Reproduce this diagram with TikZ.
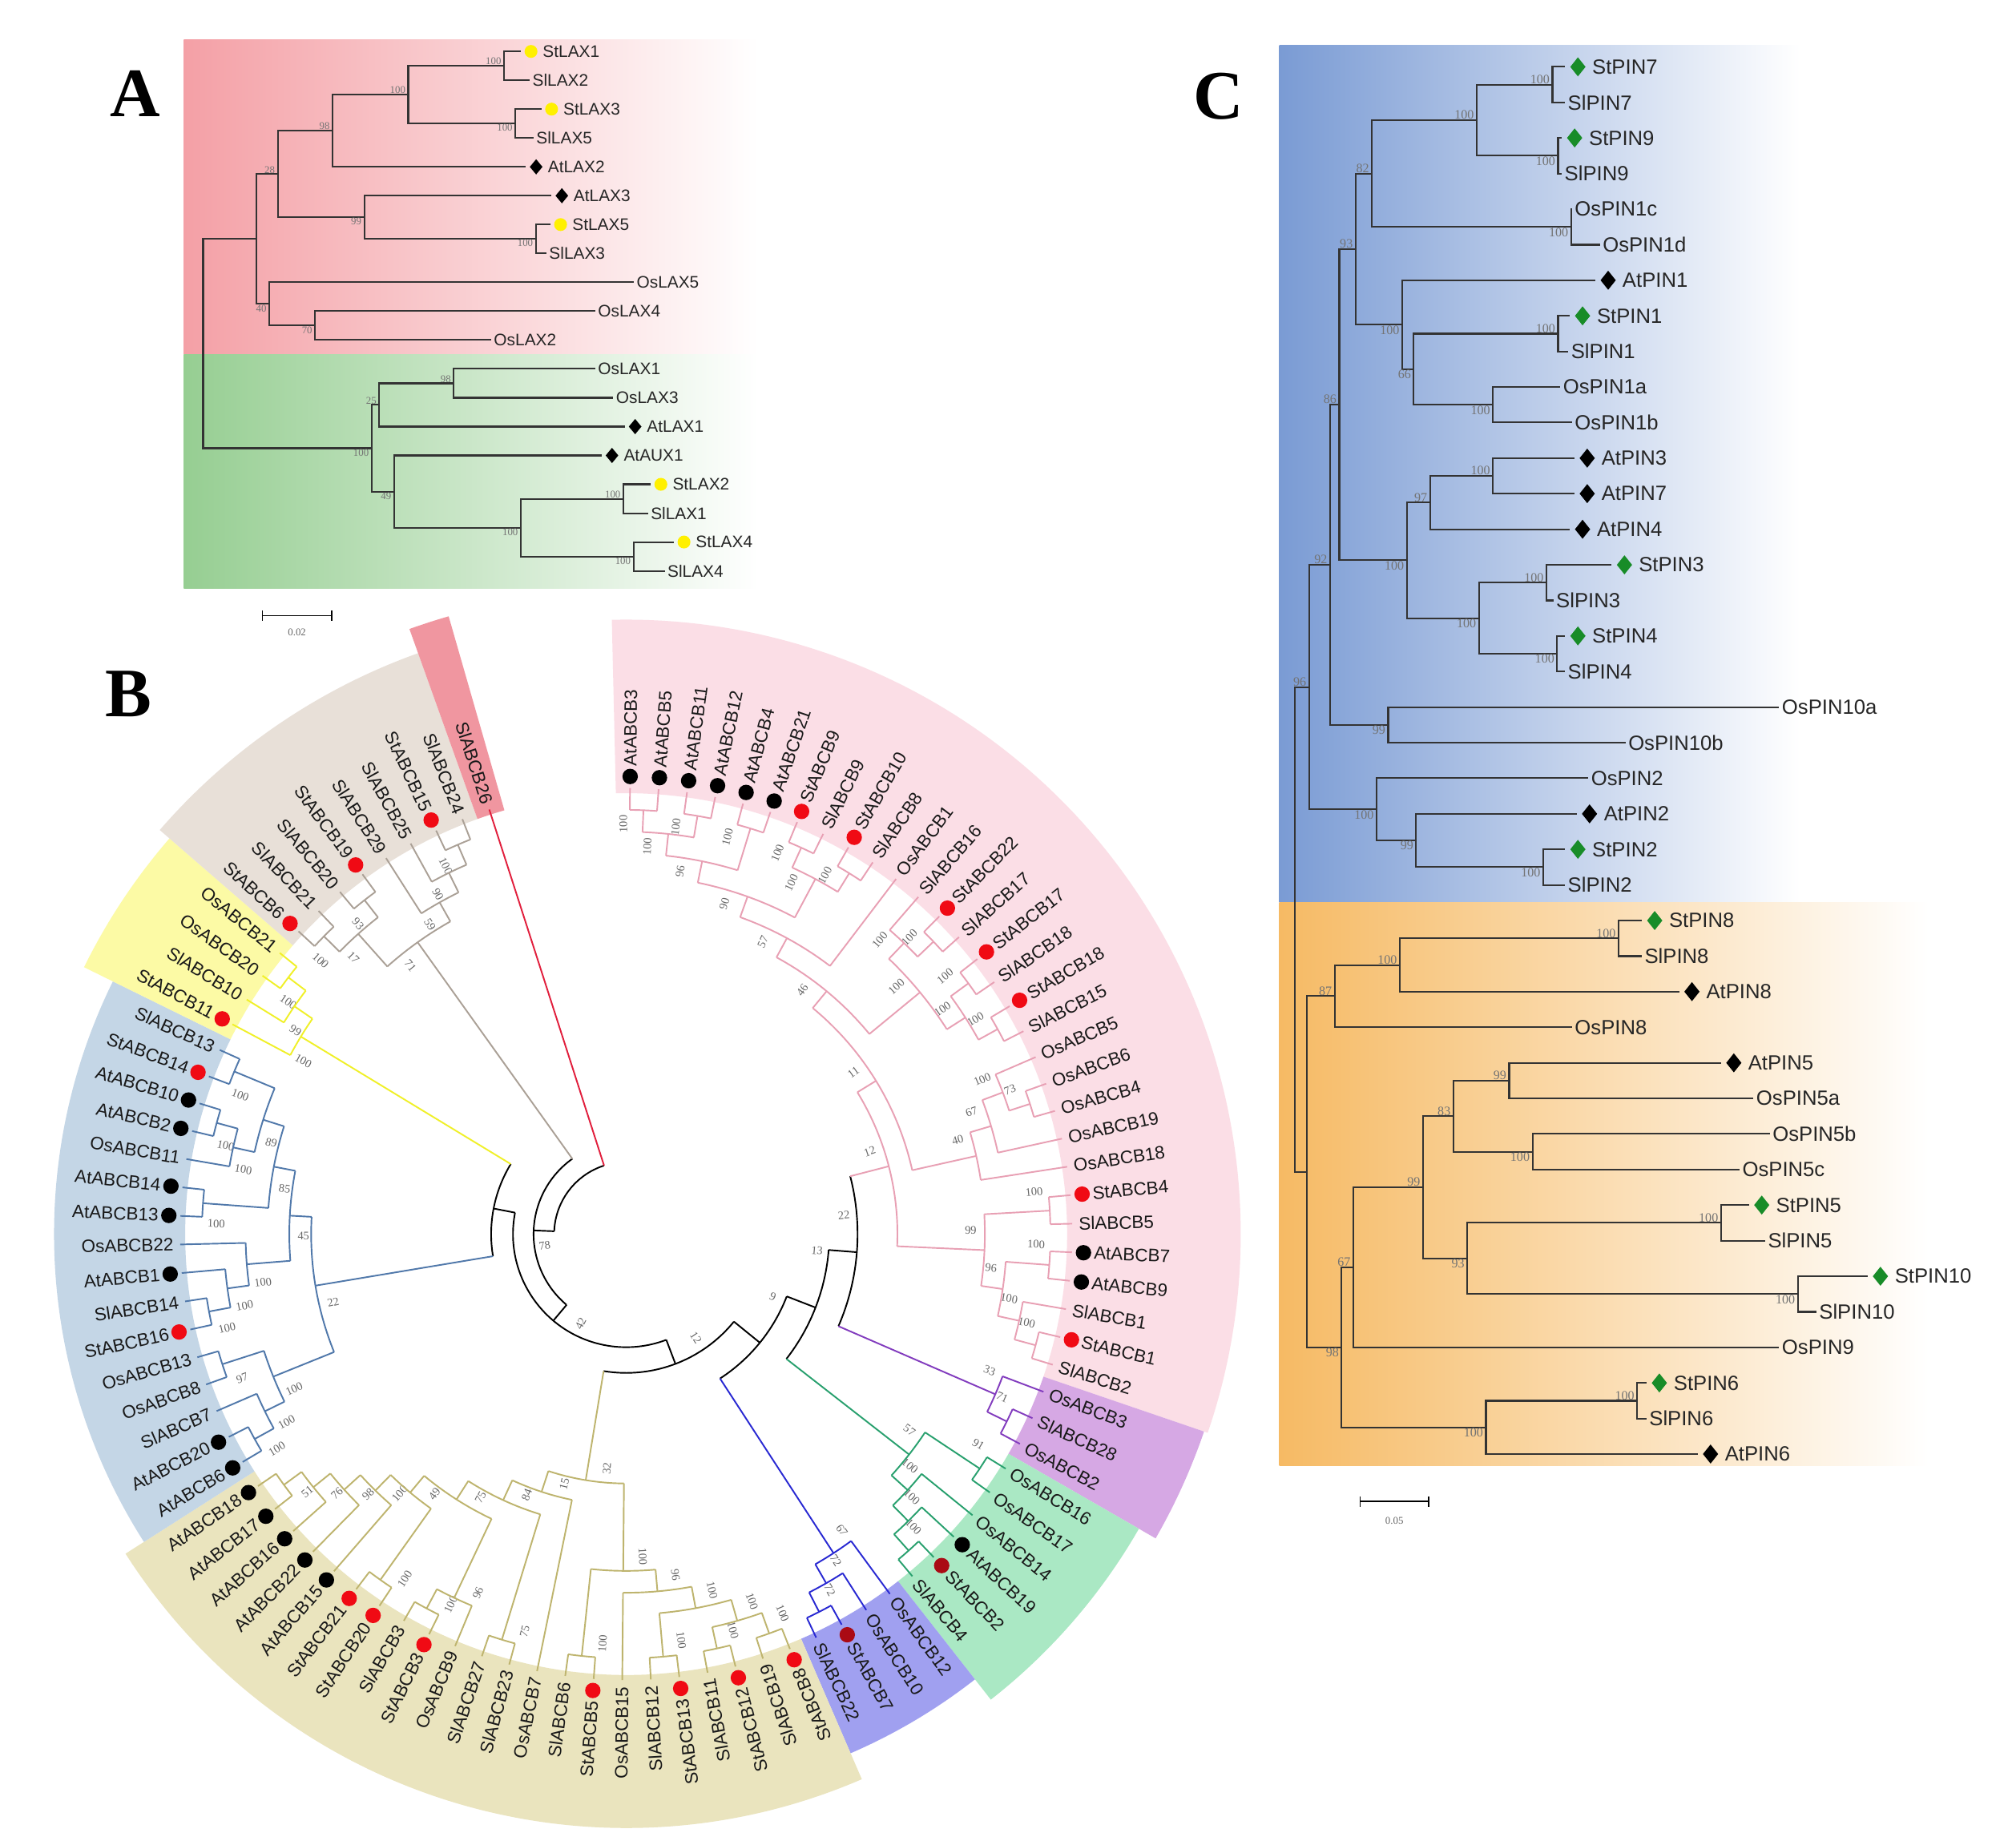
\documentclass[tikz,border=0pt]{standalone}
\usepackage{fontspec}
\setmainfont{Liberation Serif}
\newfontfamily\sansf{Liberation Sans}
\usetikzlibrary{shapes.geometric}
\definecolor{pinkA}{RGB}{244,160,166}
\definecolor{greenA}{RGB}{150,206,146}
\definecolor{blueC}{RGB}{122,155,212}
\definecolor{orangeC}{RGB}{246,186,100}
\definecolor{dotyellow}{RGB}{255,240,0}
\definecolor{diagreen}{RGB}{24,140,40}
\definecolor{pinkbr}{RGB}{232,160,180}
\definecolor{purplebr}{RGB}{130,60,190}
\definecolor{greenbr}{RGB}{40,160,110}
\definecolor{violetbr}{RGB}{40,40,210}
\definecolor{khakibr}{RGB}{190,180,110}
\definecolor{bluebr}{RGB}{80,120,170}
\definecolor{yellowbr}{RGB}{240,240,40}
\definecolor{tanbr}{RGB}{170,160,150}
\definecolor{redbr}{RGB}{225,30,60}
\definecolor{pinkbg}{RGB}{251,222,230}
\definecolor{purplebg}{RGB}{214,168,228}
\definecolor{greenbg}{RGB}{170,232,196}
\definecolor{violetbg}{RGB}{160,160,240}
\definecolor{khakibg}{RGB}{234,228,190}
\definecolor{bluebg}{RGB}{196,214,230}
\definecolor{yellowbg}{RGB}{252,250,165}
\definecolor{tanbg}{RGB}{232,224,216}
\definecolor{redbg}{RGB}{240,150,160}
\definecolor{dotr}{RGB}{240,10,20}
\definecolor{dotd}{RGB}{170,10,20}
\definecolor{dotk}{RGB}{0,0,0}
\newcommand\myfA{\sansf\fontsize{13}{13}\selectfont}
\newcommand\myfB{\sansf\fontsize{14}{14}\selectfont}
\newcommand\myfC{\sansf\fontsize{16}{16}\selectfont}
\newcommand\mybA{\fontsize{8}{8}\selectfont}
\newcommand\mybB{\fontsize{9}{9}\selectfont}
\newcommand\mybC{\fontsize{10}{10}\selectfont}
\tikzset{
 brA/.style={draw=black!80, line width=1.3pt},
 lfA/.style={anchor=west, inner sep=0pt, font=\myfA, text=black!85},
 lfC/.style={anchor=west, inner sep=0pt, font=\myfC, text=black!85},
 lfB/.style={inner sep=0pt, font=\myfB, text=black!90},
 bsA/.style={inner sep=0.5pt, font=\mybA, text=black!55},
 bsC/.style={inner sep=0.5pt, font=\mybC, text=black!55},
 bsB/.style={inner sep=0.5pt, font=\mybB, text=black!60},
 ydot/.style={circle, fill=dotyellow, inner sep=0pt, minimum size=10pt},
 kdiaA/.style={diamond, fill=black, inner sep=0pt, minimum width=10pt, minimum height=12pt},
 kdiaC/.style={diamond, fill=black, inner sep=0pt, minimum width=12pt, minimum height=15pt},
 gdiaC/.style={diamond, fill=diagreen, inner sep=0pt, minimum width=12pt, minimum height=15pt},
 bdot/.style={circle, inner sep=0pt, minimum size=12pt},
 bbr/.style={line width=1.2pt},
 panel/.style={font=\fontsize{54}{54}\selectfont\bfseries}
}
% panel A leaves
\newcommand\LA[4]{\coordinate (#1) at (#2,#3); \node[lfA] (#1-t) at ([xshift=2pt]#1) {#4};}
\newcommand\LAm[5]{\coordinate (#1) at (#2,#3); \node[#4] (#1-m) at ([xshift=8pt]#1) {}; \node[lfA] (#1-t) at ([xshift=17pt]#1) {#5};}
% panel C leaves
\newcommand\LC[4]{\coordinate (#1) at (#2,#3); \node[lfC] (#1-t) at ([xshift=2pt]#1) {#4};}
\newcommand\LCm[5]{\coordinate (#1) at (#2,#3); \node[#4] (#1-m) at ([xshift=10pt]#1) {}; \node[lfC] (#1-t) at ([xshift=21pt]#1) {#5};}
\newcommand\BS[4]{\node[#4, anchor=#3 east] at ([xshift=-1.5pt]#1) {#2};}
% panel B
\def\Bstart{-89.5}
\def\Bstep{3.6735}
\def\Brtip{347}
\newcommand\BLeaf[2]{%
  \pgfmathsetmacro\tmpang{\Bstart+(#1-1)*\Bstep}%
  \expandafter\xdef\csname bang@L#1\endcsname{\tmpang}%
  \expandafter\xdef\csname brad@L#1\endcsname{\Brtip}%
  \expandafter\xdef\csname bcol@L#1\endcsname{#2}}
\newcommand\BNode[6]{%
  \edef\aA{\csname bang@#3\endcsname}%
  \edef\aB{\csname bang@#4\endcsname}%
  \edef\rA{\csname brad@#3\endcsname}%
  \edef\rB{\csname brad@#4\endcsname}%
  \edef\cA{\csname bcol@#3\endcsname}%
  \edef\cB{\csname bcol@#4\endcsname}%
  \pgfmathsetmacro\tmpang{(\aA+\aB)/2}%
  \expandafter\xdef\csname bang@#1\endcsname{\tmpang}%
  \expandafter\xdef\csname brad@#1\endcsname{#2}%
  \expandafter\xdef\csname bcol@#1\endcsname{#5}%
  \draw[bbr,draw=#5] (\aA:#2) arc[start angle=\aA, end angle=\aB, radius=#2];%
  \draw[bbr,draw=\cA] (\aA:#2) -- (\aA:\rA);%
  \draw[bbr,draw=\cB] (\aB:#2) -- (\aB:\rB);%
  \def\tmplab{#6}\ifx\tmplab\empty\else
    \pgfmathsetmacro\la{\tmpang-900/#2}%
    \pgfmathsetmacro\lrr{#2-11}%
    \pgfmathsetmacro\lrot{ifthenelse(\la>90,180-(\la),0-(\la))}%
    \node[bsB, rotate=\lrot] at (\la:\lrr) {#6};%
  \fi}
\newcommand\BLab[3]{%
  \pgfmathsetmacro\tmpang{\Bstart+(#1-1)*\Bstep}%
  \ifnum#1<44\relax
    \pgfmathsetmacro\lrot{0-(\tmpang)}\def\lanc{west}%
  \else
    \pgfmathsetmacro\lrot{180-(\tmpang)}\def\lanc{east}%
  \fi
  \if#3n\def\lr{352}\else\def\lr{364}%
    \node[bdot,fill=dot#3] at (\tmpang:356) {};\fi
  \node[lfB,anchor=\lanc,rotate=\lrot] at (\tmpang:\lr) {#2};}
\newcommand\Band[4]{%
  \pgfmathsetmacro\ba{\Bstart+(#1-1.5)*\Bstep}%
  \pgfmathsetmacro\bb{\Bstart+(#2-0.5)*\Bstep}%
  \fill[#4] (\ba:343) arc[start angle=\ba,end angle=\bb,radius=343] -- (\bb:#3) arc[start angle=\bb,end angle=\ba,radius=#3] -- cycle;}
\newcommand\BBL[3]{%
  \pgfmathsetmacro\lrot{ifthenelse(#1>90,180-(#1),0-(#1))}%
  \node[bsB, rotate=\lrot] at (#1:#2) {#3};}

\begin{document}
\begin{tikzpicture}[x=1pt,y=-1pt]
\useasboundingbox (0,0) rectangle (1568,1435);
\fill[white] (0,0) rectangle (1568,1435);

%================ PANEL A =================
\node[panel] at (105,73) {A};
\shade[left color=pinkA, right color=white] (143,31) rectangle (590,276);
\shade[left color=greenA, right color=white] (143,276) rectangle (590,458);

\LAm{StLAX1}{405}{40}{ydot}{StLAX1}
\LA{SlLAX2}{412}{62.45}{SlLAX2}
\LAm{StLAX3}{421}{84.9}{ydot}{StLAX3}
\LA{SlLAX5}{415}{107.35}{SlLAX5}
\LAm{AtLAX2}{409}{129.8}{kdiaA}{AtLAX2}
\LAm{AtLAX3}{429}{152.25}{kdiaA}{AtLAX3}
\LAm{StLAX5}{428}{174.7}{ydot}{StLAX5}
\LA{SlLAX3}{425}{197.15}{SlLAX3}
\LA{OsLAX5}{493}{219.6}{OsLAX5}
\LA{OsLAX4}{463}{242.05}{OsLAX4}
\LA{OsLAX2}{382}{264.5}{OsLAX2}
\LA{OsLAX1}{463}{286.95}{OsLAX1}
\LA{OsLAX3}{477}{309.4}{OsLAX3}
\LAm{AtLAX1}{486}{331.85}{kdiaA}{AtLAX1}
\LAm{AtAUX1}{468}{354.3}{kdiaA}{AtAUX1}
\LAm{StLAX2}{506}{376.75}{ydot}{StLAX2}
\LA{SlLAX1}{504}{399.2}{SlLAX1}
\LAm{StLAX4}{524}{421.65}{ydot}{StLAX4}
\LA{SlLAX4}{517}{444.1}{SlLAX4}

\coordinate (P5) at (392,51.2);
\coordinate (P6) at (400.8,96.1);
\coordinate (P4) at (317.5,73.65);
\coordinate (P3) at (258.6,101.7);
\coordinate (P8) at (416.7,185.9);
\coordinate (P7) at (283.3,169.1);
\coordinate (P2) at (216,135.4);
\coordinate (P10) at (245,253.3);
\coordinate (P9) at (209.4,236.45);
\coordinate (P1) at (199.2,185.9);
\coordinate (G4) at (352.9,298.2);
\coordinate (G2) at (294.9,315.0);
\coordinate (G6) at (484.8,388.0);
\coordinate (G7) at (492.7,432.9);
\coordinate (G5) at (405,410.45);
\coordinate (G3) at (306.5,382.4);
\coordinate (G1) at (289,348.7);
\coordinate (RA) at (158,267.3);

\foreach \p/\c in {RA/P1,RA/G1,P1/P2,P1/P9,P2/P3,P2/P7,P3/P4,P3/AtLAX2,P4/P5,P4/P6,
  P5/StLAX1,P5/SlLAX2,P6/StLAX3,P6/SlLAX5,P7/AtLAX3,P7/P8,P8/StLAX5,P8/SlLAX3,
  P9/OsLAX5,P9/P10,P10/OsLAX4,P10/OsLAX2,G1/G2,G1/G3,G2/G4,G2/AtLAX1,G4/OsLAX1,G4/OsLAX3,
  G3/AtAUX1,G3/G5,G5/G6,G5/G7,G6/StLAX2,G6/SlLAX1,G7/StLAX4,G7/SlLAX4}
  \draw[brA] (\p) |- (\c);

\BS{P2}{28}{south}{bsA}
\BS{P3}{98}{south}{bsA}
\BS{P4}{100}{south}{bsA}
\BS{P5}{100}{south}{bsA}
\BS{P6}{100}{north}{bsA}
\BS{P7}{99}{north}{bsA}
\BS{P8}{100}{north}{bsA}
\BS{P9}{40}{north}{bsA}
\BS{P10}{70}{north}{bsA}
\BS{G1}{100}{north}{bsA}
\BS{G2}{25}{south}{bsA}
\BS{G4}{98}{south}{bsA}
\BS{G3}{49}{north}{bsA}
\BS{G5}{100}{north}{bsA}
\BS{G6}{100}{south}{bsA}
\BS{G7}{100}{north}{bsA}

\draw[line width=1pt] (204,479) -- (258,479);
\draw[line width=1pt] (204,475) -- (204,483);
\draw[line width=1pt] (258,475) -- (258,483);
\node[font=\mybA, text=black!60] at (231,492) {0.02};

%================ PANEL C =================
\node[panel] at (948,75) {C};
\shade[left color=blueC, right color=white] (995,35) rectangle (1400,702);
\shade[left color=orangeC, right color=white] (995,702) rectangle (1500,1140);

\begin{scope}[xshift=991pt, x=0.362pt]
\LCm{StPIN7}{625}{52.0}{gdiaC}{StPIN7}
\LC{SlPIN7}{625}{79.7}{SlPIN7}
\LCm{StPIN9}{618}{107.3}{gdiaC}{StPIN9}
\LC{SlPIN9}{618}{135.0}{SlPIN9}
\LC{OsPIN1c}{640}{162.7}{OsPIN1c}
\LC{OsPIN1d}{700}{190.4}{OsPIN1d}
\LCm{AtPIN1}{690}{218.0}{kdiaC}{AtPIN1}
\LCm{StPIN1}{635}{245.7}{gdiaC}{StPIN1}
\LC{SlPIN1}{632}{273.4}{SlPIN1}
\LC{OsPIN1a}{615}{301.0}{OsPIN1a}
\LC{OsPIN1b}{640}{328.7}{OsPIN1b}
\LCm{AtPIN3}{645}{356.4}{kdiaC}{AtPIN3}
\LCm{AtPIN7}{645}{384.0}{kdiaC}{AtPIN7}
\LCm{AtPIN4}{635}{411.7}{kdiaC}{AtPIN4}
\LCm{StPIN3}{725}{439.4}{gdiaC}{StPIN3}
\LC{SlPIN3}{600}{467.1}{SlPIN3}
\LCm{StPIN4}{625}{494.7}{gdiaC}{StPIN4}
\LC{SlPIN4}{625}{522.4}{SlPIN4}
\LC{OsPIN10a}{1085}{550.1}{OsPIN10a}
\LC{OsPIN10b}{755}{577.7}{OsPIN10b}
\LC{OsPIN2}{675}{605.4}{OsPIN2}
\LCm{AtPIN2}{650}{633.1}{kdiaC}{AtPIN2}
\LCm{StPIN2}{625}{660.7}{gdiaC}{StPIN2}
\LC{SlPIN2}{625}{688.4}{SlPIN2}
\LCm{StPIN8}{790}{716.1}{gdiaC}{StPIN8}
\LC{SlPIN8}{790}{743.8}{SlPIN8}
\LCm{AtPIN8}{870}{771.4}{kdiaC}{AtPIN8}
\LC{OsPIN8}{640}{799.1}{OsPIN8}
\LCm{AtPIN5}{960}{826.8}{kdiaC}{AtPIN5}
\LC{OsPIN5a}{1030}{854.4}{OsPIN5a}
\LC{OsPIN5b}{1065}{882.1}{OsPIN5b}
\LC{OsPIN5c}{1000}{909.8}{OsPIN5c}
\LCm{StPIN5}{1020}{937.4}{gdiaC}{StPIN5}
\LC{SlPIN5}{1055}{965.1}{SlPIN5}
\LCm{StPIN10}{1275}{992.8}{gdiaC}{StPIN10}
\LC{SlPIN10}{1165}{1020.5}{SlPIN10}
\LC{OsPIN9}{1085}{1048.1}{OsPIN9}
\LCm{StPIN6}{800}{1075.8}{gdiaC}{StPIN6}
\LC{SlPIN6}{800}{1103.5}{SlPIN6}
\LCm{AtPIN6}{910}{1131.1}{kdiaC}{AtPIN6}

\coordinate (cA) at (598,65.85);
\coordinate (cB) at (610,121.15);
\coordinate (cC) at (435,93.5);
\coordinate (cD) at (638,176.55);
\coordinate (cE) at (210,135.0);
\coordinate (cF) at (610,259.55);
\coordinate (cG) at (470,314.85);
\coordinate (cH) at (300,287.2);
\coordinate (cI) at (275,252.6);
\coordinate (cJ) at (175,193.8);
\coordinate (cK) at (470,370.2);
\coordinate (cL) at (335,390.95);
\coordinate (cM) at (585,453.25);
\coordinate (cN) at (608,508.55);
\coordinate (cO) at (440,480.9);
\coordinate (cP) at (285,435.9);
\coordinate (cQ) at (140,314.85);
\coordinate (cR) at (245,563.9);
\coordinate (cS) at (120,439.4);
\coordinate (cT) at (578,674.55);
\coordinate (cU) at (305,653.8);
\coordinate (cV) at (220,629.6);
\coordinate (cW) at (75,534.5);
\coordinate (oA) at (740,729.95);
\coordinate (oB) at (270,750.7);
\coordinate (oC) at (130,774.9);
\coordinate (oD) at (505,840.6);
\coordinate (oE) at (555,895.95);
\coordinate (oF) at (385,868.3);
\coordinate (oG) at (960,951.25);
\coordinate (oH) at (1125,1006.65);
\coordinate (oI) at (415,978.95);
\coordinate (oJ) at (320,923.6);
\coordinate (oK) at (170,985.85);
\coordinate (oL) at (780,1089.65);
\coordinate (oM) at (455,1110.4);
\coordinate (oN) at (145,1048.1);
\coordinate (oO) at (70,911.5);
\coordinate (rC) at (45,723);

\foreach \p/\c in {rC/cW,rC/oO,cW/cS,cW/cV,cS/cQ,cS/cR,cQ/cJ,cQ/cP,cJ/cE,cJ/cI,
  cE/cC,cE/cD,cC/cA,cC/cB,cA/StPIN7,cA/SlPIN7,cB/StPIN9,cB/SlPIN9,cD/OsPIN1c,cD/OsPIN1d,
  cI/AtPIN1,cI/cH,cH/cF,cH/cG,cF/StPIN1,cF/SlPIN1,cG/OsPIN1a,cG/OsPIN1b,
  cP/cL,cP/cO,cL/cK,cL/AtPIN4,cK/AtPIN3,cK/AtPIN7,cO/cM,cO/cN,cM/StPIN3,cM/SlPIN3,
  cN/StPIN4,cN/SlPIN4,cR/OsPIN10a,cR/OsPIN10b,cV/OsPIN2,cV/cU,cU/AtPIN2,cU/cT,
  cT/StPIN2,cT/SlPIN2,oO/oC,oO/oN,oC/oB,oC/OsPIN8,oB/oA,oB/AtPIN8,oA/StPIN8,oA/SlPIN8,
  oN/oK,oN/oM,oK/oJ,oK/OsPIN9,oJ/oF,oJ/oI,oF/oD,oF/oE,oD/AtPIN5,oD/OsPIN5a,
  oE/OsPIN5b,oE/OsPIN5c,oI/oG,oI/oH,oG/StPIN5,oG/SlPIN5,oH/StPIN10,oH/SlPIN10,
  oM/oL,oM/AtPIN6,oL/StPIN6,oL/SlPIN6}
  \draw[brA] (\p) |- (\c);

\foreach \n/\t/\s in {cA/100/south,cB/100/north,cC/100/south,cD/100/north,cE/82/south,
  cF/100/south,cG/100/north,cH/66/north,cI/100/north,cJ/93/south,cK/100/south,cL/97/south,
  cM/100/south,cN/100/north,cO/100/north,cP/100/north,cQ/86/south,cR/99/north,cS/92/south,
  cT/100/north,cU/99/north,cV/100/north,cW/96/south,oA/100/south,oB/100/south,oC/87/south,
  oD/99/south,oE/100/north,oF/83/south,oG/100/south,oH/100/north,oI/93/north,oJ/99/south,
  oK/67/south,oL/100/south,oM/100/north,oN/98/north}
  \BS{\n}{\t}{\s}{bsC};
\end{scope}

\draw[line width=1pt] (1058,1168) -- (1111,1168);
\draw[line width=1pt] (1058,1164) -- (1058,1172);
\draw[line width=1pt] (1111,1164) -- (1111,1172);
\node[font=\mybA, text=black!60] at (1084.5,1183) {0.05};

%================ PANEL B =================
\node[panel] at (100,540) {B};
\begin{scope}[shift={(487,960)}]
\Band{1}{30}{478}{pinkbg}
\Band{31}{33}{475}{purplebg}
\Band{34}{39}{460}{greenbg}
\Band{40}{43}{440}{violetbg}
\Band{44}{65}{462}{khakibg}
\Band{66}{81}{445}{bluebg}
\Band{82}{85}{470}{yellowbg}
\Band{86}{93}{480}{tanbg}
\Band{94}{94}{500}{redbg}

\foreach \i in {1,...,30} {\BLeaf{\i}{pinkbr}}
\foreach \i in {31,...,33} {\BLeaf{\i}{purplebr}}
\foreach \i in {34,...,39} {\BLeaf{\i}{greenbr}}
\foreach \i in {40,...,43} {\BLeaf{\i}{violetbr}}
\foreach \i in {44,...,65} {\BLeaf{\i}{khakibr}}
\foreach \i in {66,...,81} {\BLeaf{\i}{bluebr}}
\foreach \i in {82,...,85} {\BLeaf{\i}{yellowbr}}
\foreach \i in {86,...,93} {\BLeaf{\i}{tanbr}}
\BLeaf{94}{redbr}

% pink
\BNode{p1}{330}{L1}{L2}{pinkbr}{100}
\BNode{p2}{330}{L3}{L4}{pinkbr}{100}
\BNode{p3}{313}{p1}{p2}{pinkbr}{100}
\BNode{p4}{330}{L5}{L6}{pinkbr}{100}
\BNode{p5}{296}{p3}{p4}{pinkbr}{96}
\BNode{p6}{330}{L7}{L8}{pinkbr}{100}
\BNode{p7}{330}{L9}{L10}{pinkbr}{100}
\BNode{p8}{313}{p6}{p7}{pinkbr}{100}
\BNode{p9}{279}{p5}{p8}{pinkbr}{90}
\BNode{p10}{262}{p9}{L11}{pinkbr}{57}
\BNode{p11}{330}{L13}{L14}{pinkbr}{100}
\BNode{p12}{313}{L12}{p11}{pinkbr}{100}
\BNode{p13}{330}{L15}{L16}{pinkbr}{100}
\BNode{p14}{330}{L17}{L18}{pinkbr}{100}
\BNode{p15}{313}{p13}{p14}{pinkbr}{100}
\BNode{p16}{296}{p12}{p15}{pinkbr}{100}
\BNode{p17}{245}{p10}{p16}{pinkbr}{46}
\BNode{p18}{330}{L20}{L21}{pinkbr}{73}
\BNode{p19}{313}{L19}{p18}{pinkbr}{100}
\BNode{p20}{296}{p19}{L22}{pinkbr}{67}
\BNode{p21}{279}{p20}{L23}{pinkbr}{40}
\BNode{p22}{228}{p17}{p21}{pinkbr}{11}
\BNode{p23}{330}{L24}{L25}{pinkbr}{100}
\BNode{p24}{330}{L26}{L27}{pinkbr}{100}
\BNode{p25}{330}{L29}{L30}{pinkbr}{100}
\BNode{p26}{313}{L28}{p25}{pinkbr}{100}
\BNode{p27}{296}{p24}{p26}{pinkbr}{96}
\BNode{p28}{279}{p23}{p27}{pinkbr}{99}
\BNode{p29}{211}{p22}{p28}{pinkbr}{12}
% purple
\BNode{u1}{330}{L32}{L33}{purplebr}{71}
\BNode{u2}{313}{L31}{u1}{purplebr}{33}
% green
\BNode{g1}{330}{L38}{L39}{greenbr}{100}
\BNode{g2}{313}{L37}{g1}{greenbr}{100}
\BNode{g3}{296}{L36}{g2}{greenbr}{100}
\BNode{g4}{330}{L34}{L35}{greenbr}{91}
\BNode{g5}{279}{g4}{g3}{greenbr}{57}
% violet
\BNode{v1}{330}{L42}{L43}{violetbr}{72}
\BNode{v2}{313}{L41}{v1}{violetbr}{72}
\BNode{v3}{296}{L40}{v2}{violetbr}{67}
% khaki
\BNode{w1}{330}{L51}{L52}{khakibr}{100}
\BNode{w2}{330}{L48}{L49}{khakibr}{100}
\BNode{w3}{330}{L46}{L47}{khakibr}{100}
\BNode{w4}{330}{L44}{L45}{khakibr}{100}
\BNode{w5}{313}{w4}{w3}{khakibr}{100}
\BNode{w6}{296}{w5}{w2}{khakibr}{100}
\BNode{w7}{279}{w6}{L50}{khakibr}{96}
\BNode{w8}{262}{w7}{w1}{khakibr}{100}
\BNode{k16}{330}{L64}{L65}{khakibr}{51}
\BNode{k17}{313}{L63}{k16}{khakibr}{76}
\BNode{k18}{296}{L62}{k17}{khakibr}{98}
\BNode{k19}{279}{L61}{k18}{khakibr}{100}
\BNode{x1}{330}{L59}{L60}{khakibr}{100}
\BNode{k20}{262}{x1}{k19}{khakibr}{49}
\BNode{y1}{330}{L57}{L58}{khakibr}{100}
\BNode{y2}{313}{L56}{y1}{khakibr}{96}
\BNode{k21}{245}{y2}{k20}{khakibr}{75}
\BNode{z1}{330}{L54}{L55}{khakibr}{75}
\BNode{k22}{228}{z1}{k21}{khakibr}{84}
\BNode{k23}{211}{L53}{k22}{khakibr}{15}
\BNode{k24}{194}{w8}{k23}{khakibr}{32}
% blue
\BNode{b1}{330}{L66}{L67}{bluebr}{100}
\BNode{b2}{313}{L68}{b1}{bluebr}{100}
\BNode{b3}{330}{L69}{L70}{bluebr}{97}
\BNode{b4}{296}{b2}{b3}{bluebr}{100}
\BNode{b5}{330}{L71}{L72}{bluebr}{100}
\BNode{b6}{313}{L73}{b5}{bluebr}{100}
\BNode{b7}{296}{L74}{b6}{bluebr}{100}
\BNode{b8}{330}{L75}{L76}{bluebr}{100}
\BNode{b10}{330}{L78}{L79}{bluebr}{100}
\BNode{b12}{313}{L77}{b10}{bluebr}{100}
\BNode{b11}{330}{L80}{L81}{bluebr}{100}
\BNode{b13}{296}{b12}{b11}{bluebr}{89}
\BNode{b14}{279}{b8}{b13}{bluebr}{85}
\BNode{b15}{262}{b7}{b14}{bluebr}{45}
\BNode{b16}{245}{b4}{b15}{bluebr}{22}
% yellow
\BNode{q1}{330}{L84}{L85}{yellowbr}{100}
\BNode{q2}{313}{L83}{q1}{yellowbr}{99}
\BNode{q3}{296}{L82}{q2}{yellowbr}{100}
% tan
\BNode{t1}{330}{L92}{L93}{tanbr}{100}
\BNode{t2}{313}{L91}{t1}{tanbr}{90}
\BNode{t3}{296}{L90}{t2}{tanbr}{59}
\BNode{t4}{330}{L88}{L89}{tanbr}{93}
\BNode{t5}{330}{L86}{L87}{tanbr}{100}
\BNode{t6}{313}{t5}{t4}{tanbr}{17}
\BNode{t7}{279}{t6}{t3}{tanbr}{71}
% backbone
\BNode{A7}{180}{p29}{u2}{black}{}
\BNode{A6}{158}{g5}{A7}{black}{}
\BNode{A5}{134}{v3}{A6}{black}{}
\BNode{A4}{108}{k24}{A5}{black}{}
\BNode{A3}{105}{q3}{b16}{black}{}
\BNode{A2}{88}{A3}{A4}{black}{}
\BNode{A1}{72}{t7}{A2}{black}{}
\BNode{R0}{56}{L94}{A1}{black}{}
\BBL{172}{64}{78}
\BBL{117}{78}{42}
\BBL{56}{97}{12}
\BBL{23}{124}{9}
\BBL{5}{149}{13}
\BBL{-5}{170}{22}

\foreach \i/\t/\m in {1/AtABCB3/k,2/AtABCB5/k,3/AtABCB11/k,4/AtABCB12/k,5/AtABCB4/k,
 6/AtABCB21/k,7/StABCB9/r,8/SlABCB9/n,9/StABCB10/r,10/SlABCB8/n,11/OsABCB1/n,
 12/SlABCB16/n,13/StABCB22/r,14/SlABCB17/n,15/StABCB17/r,16/SlABCB18/n,17/StABCB18/r,
 18/SlABCB15/n,19/OsABCB5/n,20/OsABCB6/n,21/OsABCB4/n,22/OsABCB19/n,23/OsABCB18/n,
 24/StABCB4/r,25/SlABCB5/n,26/AtABCB7/k,27/AtABCB9/k,28/SlABCB1/n,29/StABCB1/r,
 30/SlABCB2/n,31/OsABCB3/n,32/SlABCB28/n,33/OsABCB2/n,34/OsABCB16/n,35/OsABCB17/n,
 36/OsABCB14/n,37/AtABCB19/k,38/StABCB2/d,39/SlABCB4/n,40/OsABCB12/n,41/OsABCB10/n,
 42/StABCB7/d,43/SlABCB22/n,44/StABCB8/r,45/SlABCB19/n,46/StABCB12/r,47/SlABCB11/n,
 48/StABCB13/r,49/SlABCB12/n,50/OsABCB15/n,51/StABCB5/r,52/SlABCB6/n,53/OsABCB7/n,
 54/SlABCB23/n,55/SlABCB27/n,56/OsABCB9/n,57/StABCB3/r,58/SlABCB3/n,59/StABCB20/r,
 60/StABCB21/r,61/AtABCB15/k,62/AtABCB22/k,63/AtABCB16/k,64/AtABCB17/k,65/AtABCB18/k,
 66/AtABCB6/k,67/AtABCB20/k,68/SlABCB7/n,69/OsABCB8/n,70/OsABCB13/n,71/StABCB16/r,
 72/SlABCB14/n,73/AtABCB1/k,74/OsABCB22/n,75/AtABCB13/k,76/AtABCB14/k,77/OsABCB11/n,
 78/AtABCB2/k,79/AtABCB10/k,80/StABCB14/r,81/SlABCB13/n,82/StABCB11/r,83/SlABCB10/n,
 84/OsABCB20/n,85/OsABCB21/n,86/StABCB6/r,87/SlABCB21/n,88/SlABCB20/n,89/StABCB19/r,
 90/SlABCB29/n,91/SlABCB25/n,92/StABCB15/r,93/SlABCB24/n,94/SlABCB26/n}
 {\BLab{\i}{\t}{\m}}
\end{scope}
\end{tikzpicture}
\end{document}
